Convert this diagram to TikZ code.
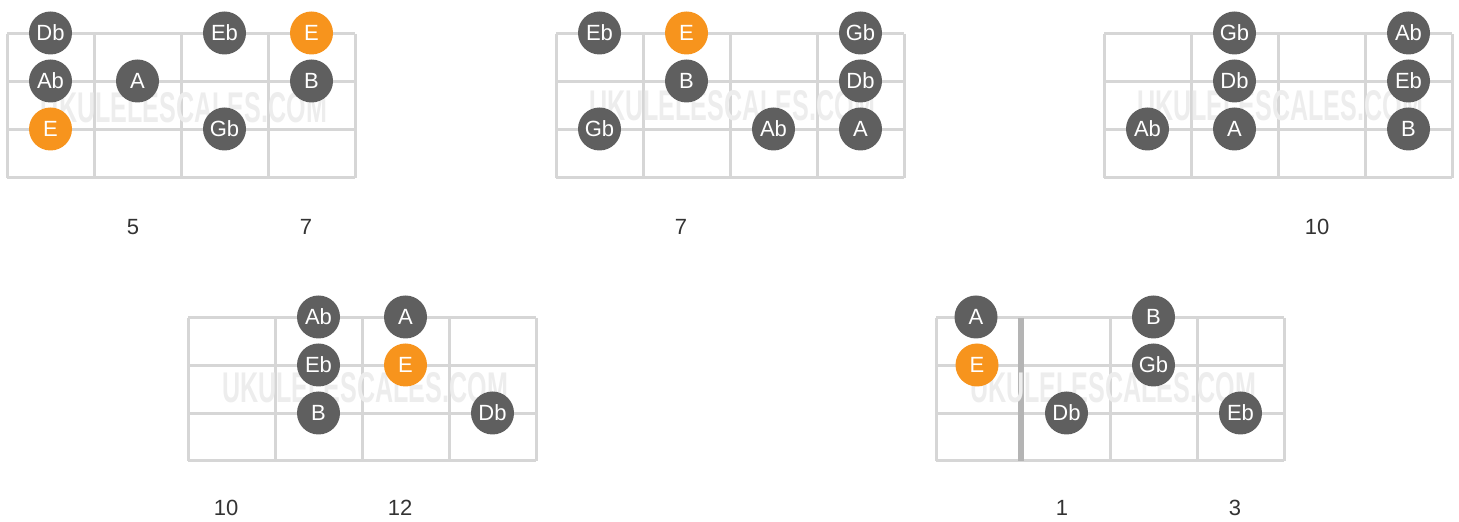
\documentclass[tikz,border=0pt]{standalone}
\usepackage{fontspec}
\setmainfont{Liberation Sans}
\definecolor{dotgrey}{HTML}{5F5F5F}
\definecolor{rootorange}{HTML}{F7941D}
\definecolor{fretgrey}{HTML}{D6D6D6}
\definecolor{nutgrey}{HTML}{B4B4B4}
\definecolor{wmgrey}{HTML}{EDEDED}
\definecolor{numgrey}{HTML}{333333}
\begin{document}
\begin{tikzpicture}[x=0.5pt,y=-0.5pt,
  note/.style={circle, fill=dotgrey, text=white, minimum size=21.5pt, inner sep=0pt, font=\fontsize{11}{13}\selectfont},
  root/.style={note, fill=rootorange},
  fretline/.style={draw=fretgrey, line width=1.5pt},
  nutline/.style={draw=nutgrey, line width=3pt},
  fretnum/.style={text=numgrey, font=\fontsize{11}{13}\selectfont},
  wmark/.style={text=wmgrey, inner sep=0pt, font=\bfseries}]
\useasboundingbox (0,0) rectangle (1459,522);

\foreach \y in {34,82,130,178} \draw[fretline] (7,\y) -- (355,\y);
\foreach \x in {7,94,181,268,355} \draw[fretline] (\x,34) -- (\x,178);
\node[wmark] (wm1) at (184,108) {\resizebox{143pt}{15pt}{UKULELESCALES.COM}};
\node[note] (d1n0) at (50.5,33){Db};
\node[note] (d1n1) at (224.5,33){Eb};
\node[root] (d1n2) at (311.5,33){E};
\node[note] (d1n3) at (50.5,81){Ab};
\node[note] (d1n4) at (137.5,81){A};
\node[note] (d1n5) at (311.5,81){B};
\node[root] (d1n6) at (50.5,129){E};
\node[note] (d1n7) at (224.5,129){Gb};
\node[fretnum] (d1f0) at (133,227){5};
\node[fretnum] (d1f1) at (306,227){7};

\foreach \y in {34,82,130,178} \draw[fretline] (556,\y) -- (904,\y);
\foreach \x in {556,643,730,817,904} \draw[fretline] (\x,34) -- (\x,178);
\node[wmark] (wm2) at (732,106) {\resizebox{143pt}{15pt}{UKULELESCALES.COM}};
\node[note] (d2n0) at (599.5,33){Eb};
\node[root] (d2n1) at (686.5,33){E};
\node[note] (d2n2) at (860.5,33){Gb};
\node[note] (d2n3) at (686.5,81){B};
\node[note] (d2n4) at (860.5,81){Db};
\node[note] (d2n5) at (599.5,129){Gb};
\node[note] (d2n6) at (773.5,129){Ab};
\node[note] (d2n7) at (860.5,129){A};
\node[fretnum] (d2f0) at (681,227){7};

\foreach \y in {34,82,130,178} \draw[fretline] (1104,\y) -- (1452,\y);
\foreach \x in {1104,1191,1278,1365,1452} \draw[fretline] (\x,34) -- (\x,178);
\node[wmark] (wm3) at (1280,106) {\resizebox{143pt}{15pt}{UKULELESCALES.COM}};
\node[note] (d3n0) at (1234.5,33){Gb};
\node[note] (d3n1) at (1408.5,33){Ab};
\node[note] (d3n2) at (1234.5,81){Db};
\node[note] (d3n3) at (1408.5,81){Eb};
\node[note] (d3n4) at (1147.5,129){Ab};
\node[note] (d3n5) at (1234.5,129){A};
\node[note] (d3n6) at (1408.5,129){B};
\node[fretnum] (d3f0) at (1317,227){10};

\foreach \y in {318,366,414,461} \draw[fretline] (188,\y) -- (536,\y);
\foreach \x in {188,275,362,449,536} \draw[fretline] (\x,318) -- (\x,461);
\node[wmark] (wm4) at (365,388) {\resizebox{143pt}{15pt}{UKULELESCALES.COM}};
\node[note] (d4n0) at (318.5,317){Ab};
\node[note] (d4n1) at (405.5,317){A};
\node[note] (d4n2) at (318.5,365){Eb};
\node[root] (d4n3) at (405.5,365){E};
\node[note] (d4n4) at (318.5,413){B};
\node[note] (d4n5) at (492.5,413){Db};
\node[fretnum] (d4f0) at (226,508){10};
\node[fretnum] (d4f1) at (400,508){12};

\foreach \y in {318,366,414,461} \draw[fretline] (936,\y) -- (1284,\y);
\foreach \x in {936,1110,1197,1284} \draw[fretline] (\x,318) -- (\x,461);
\draw[nutline] (1021,318) -- (1021,461);
\node[wmark] (wm5) at (1113,388) {\resizebox{143pt}{15pt}{UKULELESCALES.COM}};
\node[note] (d5n0) at (976,317){A};
\node[note] (d5n1) at (1153.5,317){B};
\node[root] (d5n2) at (977,365){E};
\node[note] (d5n3) at (1153.5,365){Gb};
\node[note] (d5n4) at (1066.5,413){Db};
\node[note] (d5n5) at (1240.5,413){Eb};
\node[fretnum] (d5f0) at (1062,508){1};
\node[fretnum] (d5f1) at (1235,508){3};

\end{tikzpicture}
\end{document}
